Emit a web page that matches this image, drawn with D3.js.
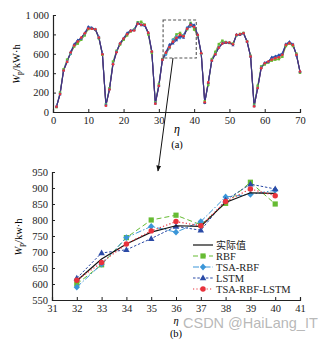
<!DOCTYPE html>
<html><head><meta charset="utf-8">
<script src="https://cdn.jsdelivr.net/npm/d3@7"></script>
<style>body{margin:0;background:#fff}svg{display:block}</style>
</head><body>
<svg id="c" width="335" height="341"></svg>
<script>
const eta = d3.range(1, 71);
const actual = [55,185,428,517,613,685,726,767,811,863,863,853,770,596,65,230,493,616,705,757,801,836,846,914,904,897,818,623,86,270,538,610,678,725,762,782,780,855,885,883,795,606,100,305,531,596,664,705,716,716,699,795,801,812,726,572,58,247,452,503,520,555,565,572,596,692,716,692,589,418];
const rbf = [50,200,440,540,600,675,705,745,790,855,860,850,760,590,80,245,520,630,695,745,790,830,850,925,930,900,800,610,100,285,545,600,660,745,800,815,785,852,918,850,790,600,110,280,545,620,700,735,720,712,705,790,805,815,730,580,75,270,470,490,510,530,540,545,570,680,705,680,600,405];
const tsaRbf = [60,190,430,525,600,690,735,760,805,870,865,855,775,600,75,235,500,625,710,760,805,840,850,915,900,895,815,625,95,275,540,590,662,745,780,762,795,872,880,893,790,600,95,300,535,600,670,710,720,715,695,790,800,810,728,575,65,250,460,505,515,560,570,580,600,700,720,700,590,415];
const lstm = [58,185,430,520,620,700,740,760,815,880,870,850,765,600,70,235,495,620,705,760,815,840,845,920,895,890,815,625,90,270,540,618,697,707,742,780,768,862,912,897,800,610,95,300,530,595,665,710,712,712,690,800,795,812,725,570,60,245,455,510,520,565,575,590,605,700,725,695,585,415];
const hybrid = [55,185,428,517,613,685,726,767,811,860,858,853,768,596,65,232,493,616,705,757,801,836,840,910,900,897,818,623,86,270,538,612,667,725,766,795,782,858,897,876,795,606,100,305,531,596,664,705,716,716,699,795,801,812,726,572,58,247,452,503,520,540,555,565,590,692,710,692,589,418];
const seriesNames = ["实际值","RBF","TSA-RBF","LSTM","TSA-RBF-LSTM"];
const topXTicks = [0,10,20,30,40,50,60,70];
const topYTicks = [0,200,400,600,800,1000];
const topYLabels = ["0","200","400","600","800","1 000"];
const zoomRange = [32, 40];
const botXTicks = [31,32,33,34,35,36,37,38,39,40,41];
const botYTicks = [550,600,650,700,750,800,850,900,950];

const styles = [
  {color:"#111", dash:null, width:1.2, marker:"none"},
  {color:"#66bb33", dash:"5,3", width:1, marker:"square"},
  {color:"#3b96d8", dash:"6,2,1.5,2", width:1, marker:"diamond"},
  {color:"#2a4aa6", dash:"2.5,1.8", width:1, marker:"triangle"},
  {color:"#e8323c", dash:"1.2,2.2", width:1.2, marker:"circle"}
];
const allSeries = [actual, rbf, tsaRbf, lstm, hybrid];
const drawOrder = [1,2,3,0,4];

const svg = d3.select("#c");
const font = "'Liberation Serif','Times New Roman',serif";

function marker(g, type, x, y, color, s) {
  if (type === "square") g.append("rect").attr("x", x - s).attr("y", y - s).attr("width", 2*s).attr("height", 2*s).attr("fill", color);
  else if (type === "diamond") g.append("path").attr("d", `M${x},${y-s*1.3}L${x+s*1.2},${y}L${x},${y+s*1.3}L${x-s*1.2},${y}Z`).attr("fill", color);
  else if (type === "triangle") g.append("path").attr("d", `M${x},${y-s*1.3}L${x+s*1.25},${y+s*0.9}L${x-s*1.25},${y+s*0.9}Z`).attr("fill", color);
  else if (type === "circle") g.append("circle").attr("cx", x).attr("cy", y).attr("r", s*1.05).attr("fill", color);
}

function axes(g, x, y, xt, yt, ylab) {
  const ax = g.append("g").attr("transform", `translate(0,${y.range()[0]})`)
    .call(d3.axisBottom(x).tickValues(xt).tickSize(-3).tickFormat(d3.format("d")));
  const ay = g.append("g").attr("transform", `translate(${x.range()[0]},0)`)
    .call(d3.axisLeft(y).tickValues(yt).tickSize(-3).tickFormat((d,i)=>ylab?ylab[i]:d));
  [ax, ay].forEach(a => {
    a.select(".domain").attr("stroke", "#222").attr("stroke-width", 1.2);
    a.selectAll(".tick line").attr("stroke", "#222");
    a.selectAll("text").attr("font-family", font).attr("font-size", 10.5).attr("fill", "#222");
  });
  ax.selectAll("text").attr("dy", "0.9em").attr("y", 2.5);
  ay.selectAll("text").attr("x", -4);
}

// ---- top chart ----
const x1 = d3.scaleLinear().domain([0, 70]).range([53, 300]);
const y1 = d3.scaleLinear().domain([0, 1000]).range([112, 15]);
const g1 = svg.append("g");
axes(g1, x1, y1, topXTicks, topYTicks, topYLabels);
const line1 = d3.line().x((d,i)=>x1(eta[i])).y(d=>y1(d));
const lineOrderTop = [1,2,4,3,0];
lineOrderTop.forEach(si => {
  const st = styles[si];
  g1.append("path").datum(allSeries[si]).attr("d", line1).attr("fill","none")
    .attr("stroke", si===0 ? "#40307e" : st.color).attr("stroke-width", 1.1)
    .attr("stroke-opacity", si===0 ? 0.8 : 0.9);
});
[1,2,3,4].forEach(si => {
  const st = styles[si];
  const mg = g1.append("g");
  allSeries[si].forEach((v,i) => marker(mg, st.marker, x1(eta[i]), y1(v), st.color, 1.25));
});
// zoom box
g1.append("rect").attr("x", x1(31.2)).attr("y", y1(948)).attr("width", x1(40.6)-x1(31.2))
  .attr("height", y1(557)-y1(948)).attr("fill","none").attr("stroke","#555").attr("stroke-width",1.1).attr("stroke-dasharray","3,2");
g1.append("text").attr("x", 177).attr("y", 133).attr("text-anchor","middle").attr("font-family",font)
  .attr("font-style","italic").attr("font-size",12).text("η");
g1.append("text").attr("x", 177).attr("y", 148).attr("text-anchor","middle").attr("font-family",font)
  .attr("font-size",10.5).text("(a)");
const yl1 = g1.append("text").attr("transform","translate(20,64) rotate(-90)").attr("text-anchor","middle")
  .attr("font-family",font).attr("font-size",10.5);
yl1.append("tspan").attr("font-style","italic").text("W");
yl1.append("tspan").attr("font-size",7.5).attr("dy",2).text("p");
yl1.append("tspan").attr("dy",-2).text("/kW·h");

// arrow
svg.append("defs").append("marker").attr("id","ah").attr("viewBox","0 0 10 10").attr("refX",9).attr("refY",5)
  .attr("markerWidth",6).attr("markerHeight",6).attr("orient","auto")
  .append("path").attr("d","M0,1L10,5L0,9Z").attr("fill","#111");
svg.append("line").attr("x1",173).attr("y1",58).attr("x2",158).attr("y2",171)
  .attr("stroke","#111").attr("stroke-width",1).attr("marker-end","url(#ah)");

// ---- bottom chart ----
const x2 = d3.scaleLinear().domain([31, 41]).range([52, 300]);
const y2 = d3.scaleLinear().domain([550, 950]).range([300, 172]);
const g2 = svg.append("g");
axes(g2, x2, y2, botXTicks, botYTicks, null);
const idx = d3.range(zoomRange[0]-1, zoomRange[1]);
const line2 = d3.line().x(i=>x2(eta[i]));
drawOrder.forEach(si => {
  const st = styles[si];
  g2.append("path").datum(idx).attr("d", line2.y(i=>y2(allSeries[si][i]))).attr("fill","none")
    .attr("stroke", st.color).attr("stroke-width", st.width).attr("stroke-dasharray", st.dash);
  const mg = g2.append("g");
  idx.forEach(i => marker(mg, st.marker, x2(eta[i]), y2(allSeries[si][i]), st.color, 2.6));
});
// legend
const lg = g2.append("g");
seriesNames.forEach((n, k) => {
  const st = styles[k];
  const yy = 245 + k * 11;
  lg.append("line").attr("x1",193).attr("x2",213).attr("y1",yy).attr("y2",yy)
    .attr("stroke",st.color).attr("stroke-width",st.width).attr("stroke-dasharray",st.dash);
  marker(lg, st.marker, 203, yy, st.color, 2.6);
  lg.append("text").attr("x",216).attr("y",yy+3.5).attr("font-family", k===0 ? "'Noto Sans CJK SC',serif" : font)
    .attr("font-size", k===0 ? 10 : 10.5).attr("fill","#222").text(n);
});
g2.append("text").attr("x", 176).attr("y", 324).attr("text-anchor","middle").attr("font-family",font)
  .attr("font-style","italic").attr("font-size",10.5).text("η");
g2.append("text").attr("x", 176).attr("y", 337).attr("text-anchor","middle").attr("font-family",font)
  .attr("font-size",10.5).text("(b)");
const yl2 = g2.append("text").attr("transform","translate(22,237) rotate(-90)").attr("text-anchor","middle")
  .attr("font-family",font).attr("font-size",10.5);
yl2.append("tspan").attr("font-style","italic").text("W");
yl2.append("tspan").attr("font-size",7.5).attr("dy",2).text("p");
yl2.append("tspan").attr("dy",-2).text("/kw·h");

// watermark
svg.append("text").attr("x", 183).attr("y", 328).attr("font-family","'Liberation Sans',Arial,sans-serif")
  .attr("font-size",14.5).attr("fill","#b0b0b0").attr("fill-opacity",0.9).text("CSDN @HaiLang_IT");
</script>
</body></html>
